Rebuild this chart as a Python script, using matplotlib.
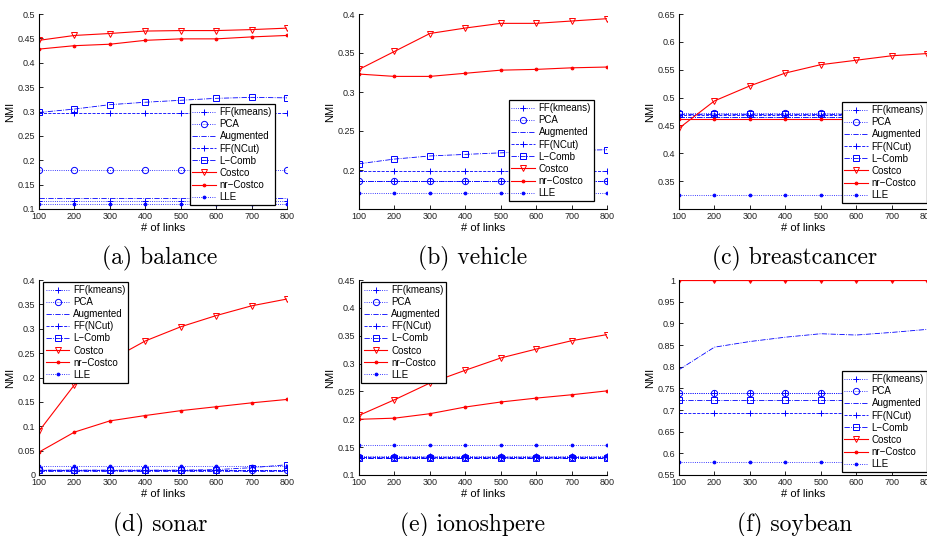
import numpy as np
import matplotlib
matplotlib.use("Agg")
from matplotlib import pyplot as plt
from matplotlib.ticker import FormatStrFormatter

links = [100, 200, 300, 400, 500, 600, 700, 800]
methods = ["FF(kmeans)", "PCA", "Augmented", "FF(NCut)", "L\u2212Comb", "Costco", "nr\u2212Costco", "LLE"]

# NMI values, one list per method and dataset
balance_ffk = [0.116] * 8
balance_pca = [0.180] * 8
balance_aug = [0.123] * 8
balance_ffn = [0.296] * 8
balance_lcomb = [0.298, 0.305, 0.314, 0.319, 0.323, 0.327, 0.329, 0.328]
balance_costco = [0.446, 0.456, 0.460, 0.465, 0.466, 0.466, 0.468, 0.471]
balance_nr = [0.428, 0.435, 0.438, 0.446, 0.449, 0.449, 0.453, 0.456]
balance_lle = [0.110] * 8

vehicle_ffk = [0.186] * 8
vehicle_pca = [0.186] * 8
vehicle_aug = [0.186] * 8
vehicle_ffn = [0.199] * 8
vehicle_lcomb = [0.208, 0.214, 0.218, 0.220, 0.222, 0.224, 0.225, 0.226]
vehicle_costco = [0.329, 0.352, 0.375, 0.382, 0.388, 0.388, 0.391, 0.394]
vehicle_nr = [0.323, 0.320, 0.320, 0.324, 0.328, 0.329, 0.331, 0.332]
vehicle_lle = [0.170] * 8

breast_ffk = [0.465] * 8
breast_pca = [0.473] * 8
breast_aug = [0.466] * 8
breast_ffn = [0.468] * 8
breast_lcomb = [0.471] * 8
breast_costco = [0.445, 0.494, 0.521, 0.544, 0.559, 0.567, 0.575, 0.579]
breast_nr = [0.462] * 8
breast_lle = [0.325] * 8

sonar_ffk = [0.010] * 8
sonar_pca = [0.010] * 8
sonar_aug = [0.009] * 8
sonar_ffn = [0.011] * 8
sonar_lcomb = [0.010, 0.010, 0.010, 0.010, 0.010, 0.011, 0.015, 0.021]
sonar_costco = [0.090, 0.185, 0.235, 0.275, 0.304, 0.327, 0.347, 0.361]
sonar_nr = [0.047, 0.088, 0.111, 0.122, 0.132, 0.140, 0.148, 0.155]
sonar_lle = [0.018] * 8

iono_ffk = [0.134] * 8
iono_pca = [0.133] * 8
iono_aug = [0.131] * 8
iono_ffn = [0.132] * 8
iono_lcomb = [0.130] * 8
iono_costco = [0.207, 0.235, 0.265, 0.288, 0.310, 0.326, 0.341, 0.352]
iono_nr = [0.200, 0.202, 0.210, 0.222, 0.231, 0.238, 0.244, 0.251]
iono_lle = [0.154] * 8

soy_ffk = [0.739] * 8
soy_pca = [0.739] * 8
soy_aug = [0.793, 0.845, 0.858, 0.868, 0.876, 0.873, 0.879, 0.886]
soy_ffn = [0.692] * 8
soy_lcomb = [0.723] * 8
soy_costco = [1.0] * 8
soy_nr = [1.0] * 8
soy_lle = [0.580] * 8

captions = ["(a) balance", "(b) vehicle", "(c) breastcancer",
            "(d) sonar", "(e) ionoshpere", "(f) soybean"]

panels = [
    [balance_ffk, balance_pca, balance_aug, balance_ffn, balance_lcomb, balance_costco, balance_nr, balance_lle],
    [vehicle_ffk, vehicle_pca, vehicle_aug, vehicle_ffn, vehicle_lcomb, vehicle_costco, vehicle_nr, vehicle_lle],
    [breast_ffk, breast_pca, breast_aug, breast_ffn, breast_lcomb, breast_costco, breast_nr, breast_lle],
    [sonar_ffk, sonar_pca, sonar_aug, sonar_ffn, sonar_lcomb, sonar_costco, sonar_nr, sonar_lle],
    [iono_ffk, iono_pca, iono_aug, iono_ffn, iono_lcomb, iono_costco, iono_nr, iono_lle],
    [soy_ffk, soy_pca, soy_aug, soy_ffn, soy_lcomb, soy_costco, soy_nr, soy_lle],
]

ylims = [(0.1, 0.5), (0.15, 0.4), (0.3, 0.65), (0.0, 0.4), (0.1, 0.45), (0.55, 1.0)]
ystart = [0.1, 0.2, 0.35, 0.0, 0.1, 0.55]

# style per method: linestyle, marker, colour, marker face
styles = [
    (":", "+", "blue", "blue"),
    (":", "o", "blue", "none"),
    ("-.", "", "blue", "blue"),
    ("--", "+", "blue", "blue"),
    ("-.", "s", "blue", "none"),
    ("-", "v", "red", "none"),
    ("-", ".", "red", "red"),
    (":", ".", "blue", "blue"),
]

W, H = 928, 536
fig = plt.figure(figsize=(W / 100, H / 100), dpi=100)

# axes boxes in pixels: left, top
boxes = [(39, 14), (359, 14), (679, 14), (39, 280), (359, 280), (679, 280)]
aw, ah = 248, 195
# legend anchor in pixels: (x, y, loc)
leg_pos = [(275, 205, "lower right"), (594, 201, "lower right"), (927, 203, "lower right"),
           (43, 282, "upper left"), (361, 282, "upper left"), (927, 472, "lower right")]
cap_x = [160, 473, 795, 160, 473, 795]
cap_y = [258, 258, 258, 525, 525, 525]

tickfont = "Liberation Sans"

for i, data in enumerate(panels):
    l, t = boxes[i]
    ax = fig.add_axes([l / W, 1 - (t + ah) / H, aw / W, ah / H])
    for j, vals in enumerate(data):
        ls, mk, c, mf = styles[j]
        ms = 4.5 if mk in ("o", "s", "v") else 4
        lw = 0.8 if c == "red" else 0.6
        ax.plot(links, vals, linestyle=ls, marker=mk if mk else None, color=c,
                mfc=mf, mec=c, ms=ms, lw=lw, mew=0.7, label=methods[j])
    ax.set_xlim(100, 800)
    ax.set_ylim(*ylims[i])
    ax.set_xticks(links)
    ax.set_yticks(np.arange(ystart[i], ylims[i][1] + 0.001, 0.05))
    ax.yaxis.set_major_formatter(FormatStrFormatter("%g"))
    ax.spines["top"].set_visible(False)
    ax.spines["right"].set_visible(False)
    for s in ("left", "bottom"):
        ax.spines[s].set_linewidth(0.8)
    ax.tick_params(direction="in", length=3, width=0.6, labelsize=6.5, pad=2.5)
    for lab in ax.get_xticklabels() + ax.get_yticklabels():
        lab.set_fontfamily(tickfont)
        lab.set_color("#222222")
    ax.set_xlabel("# of links", fontsize=8, family=tickfont, labelpad=1)
    ax.set_ylabel("NMI", fontsize=8, family=tickfont, labelpad=2)

    lx, ly, loc = leg_pos[i]
    leg = ax.legend(loc=loc, bbox_to_anchor=(lx / W, 1 - ly / H), bbox_transform=fig.transFigure,
                    borderaxespad=0, prop={"family": tickfont, "size": 7},
                    handlelength=2.4, labelspacing=0.22, handletextpad=0.4,
                    borderpad=0.3, fancybox=False, edgecolor="black", numpoints=1,
                    framealpha=1)
    leg.get_frame().set_linewidth(0.9)

    fig.text(cap_x[i] / W, 1 - cap_y[i] / H, captions[i], ha="center", va="center",
             fontsize=17, family="cmr10")

fig.savefig("out.png", dpi=100)
